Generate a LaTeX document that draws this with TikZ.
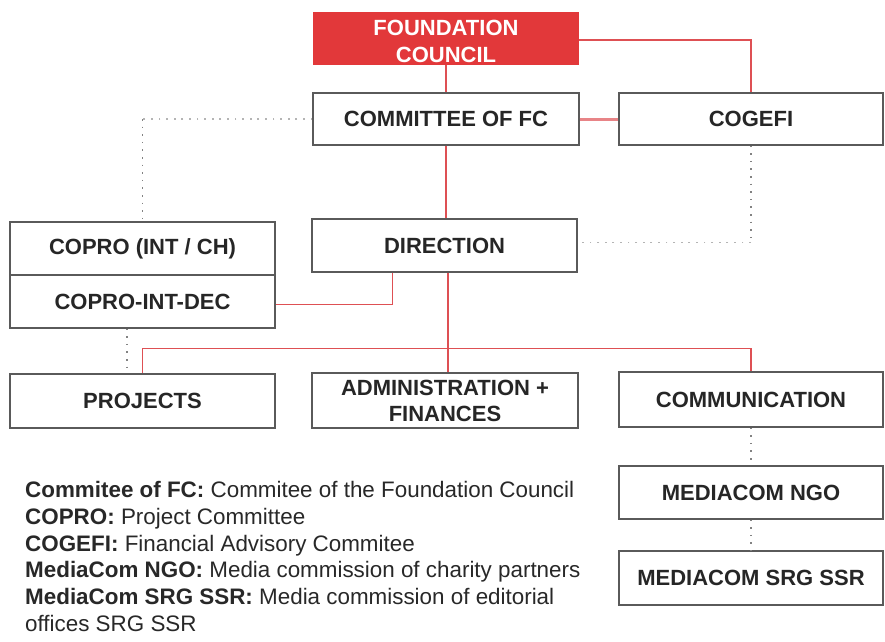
\documentclass[tikz,border=0pt]{standalone}
\usepackage{fontspec}
\setmainfont{Liberation Sans}
\definecolor{linered}{RGB}{222,80,84}
\definecolor{fcred}{RGB}{226,56,58}
\definecolor{boxgray}{RGB}{90,90,90}
\definecolor{dotgray}{RGB}{130,130,130}
\definecolor{legtext}{RGB}{40,40,40}
\tikzset{
  orgbox/.style={draw=boxgray, line width=1.3pt, fill=white, inner sep=2pt,
    font=\fontsize{22}{26}\selectfont\bfseries, text=black!85, align=center},
  fcbox/.style={fill=fcred, draw=none, inner sep=2pt,
    font=\fontsize{22}{27}\selectfont\bfseries, text=white, align=center},
  redline/.style={draw=linered, line width=1.6pt},
  thickred/.style={draw=linered!70, line width=3pt},
  dotline/.style={draw=dotgray, line width=1.8pt, dash pattern=on 1.6pt off 6pt},
  lightdot/.style={draw=dotgray!60, line width=1.9pt, dash pattern=on 1.8pt off 5.8pt},
  legline/.style={anchor=base west, inner sep=0pt, text=legtext,
    font=\fontsize{22.4}{26}\selectfont}
}
\begin{document}
\begin{tikzpicture}[x=1pt,y=-1pt]
\useasboundingbox[fill=white] (0,0) rectangle (885,641);
% boxes
\node[fcbox, minimum width=266pt, minimum height=53pt] (fc) at (446,38.5) {\rule{0pt}{22pt}FOUNDATION\\COUNCIL};
\node[orgbox, minimum width=266pt, minimum height=52pt] (cfc) at (446,119) {COMMITTEE OF FC};
\node[orgbox, minimum width=264pt, minimum height=52pt] (cogefi) at (751,119) {COGEFI};
\node[orgbox, minimum width=265pt, minimum height=53pt] (copro) at (142.5,248.5) {COPRO (INT / CH)};
\node[orgbox, minimum width=265pt, minimum height=53pt] (coprodec) at (142.5,301.5) {COPRO-INT-DEC};
\node[orgbox, minimum width=265pt, minimum height=53pt] (dir) at (444.5,245.5) {DIRECTION};
\node[orgbox, minimum width=265pt, minimum height=54pt] (proj) at (142.5,401) {PROJECTS};
\node[orgbox, minimum width=266pt, minimum height=55pt] (admin) at (445,400.5) {ADMINISTRATION +\\FINANCES};
\node[orgbox, minimum width=264pt, minimum height=55pt] (comm) at (751,399.5) {COMMUNICATION};
\node[orgbox, minimum width=264pt, minimum height=53pt] (ngo) at (751,492.5) {MEDIACOM NGO};
\node[orgbox, minimum width=264pt, minimum height=54pt] (srg) at (751,578) {MEDIACOM SRG SSR};
\coordinate (bar) at (0,348.5);
% red connectors
\draw[redline] (fc.south) -- (cfc.north);
\draw[redline] ([yshift=-1.5pt]fc.east) -| (cogefi.north);
\draw[thickred] (cfc.east) -- (cogefi.west);
\draw[redline] (cfc.south) -- (cfc.south |- dir.north);
\draw[redline] ([xshift=81pt]dir.south west) |- ([yshift=-3pt]coprodec.east);
\draw[redline] ([xshift=3.5pt]dir.south) -- ([xshift=3.5pt]dir.south |- admin.north);
\draw[redline] (proj.north) |- (comm.north |- bar) -- (comm.north);
% dotted connectors
\draw[lightdot] (cfc.west) -- (cfc.west -| copro.north);
\draw[dotline] (cfc.west -| copro.north) -- (copro.north);
\draw[dotline] (cogefi.south) -- ([yshift=3pt]cogefi.south |- dir.east);
\draw[lightdot] ([yshift=3pt]cogefi.south |- dir.east) -- ([yshift=3pt]dir.east);
\draw[dotline] ([xshift=-15.5pt]coprodec.south) -- ([xshift=-15.5pt]proj.north);
\draw[dotline] (comm.south) -- (ngo.north);
\draw[dotline] (ngo.south) -- (srg.north);
% legend
\node[legline] (leg1) at (25,497.7) {\textbf{Commitee of FC:} Commitee of the Foundation Council};
\node[legline] (leg2) at (25,524.4) {\textbf{COPRO:} Project Committee};
\node[legline] (leg3) at (25,551.1) {\textbf{COGEFI:} Financial Advisory Commitee};
\node[legline] (leg4) at (25,577.8) {\textbf{MediaCom NGO:} Media commission of charity partners};
\node[legline] (leg5) at (25,604.5) {\textbf{MediaCom SRG SSR:} Media commission of editorial};
\node[legline] (leg6) at (25,631.2) {offices SRG SSR};
\end{tikzpicture}
\end{document}
